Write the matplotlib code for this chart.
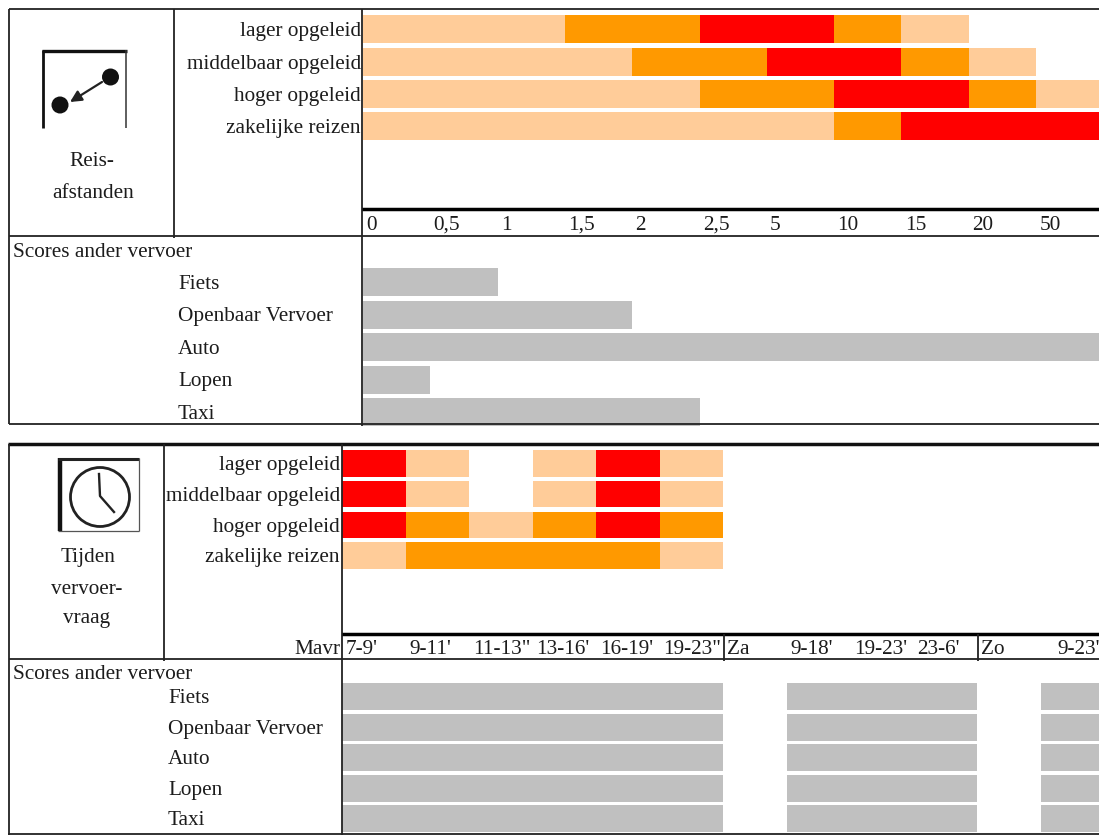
import numpy as np
import matplotlib
matplotlib.use('Agg')
import matplotlib.pyplot as plt
from matplotlib.patches import Circle
from matplotlib.transforms import Affine2D

W, H = 1099, 835
plt.rcParams['font.family'] = ['Liberation Serif', 'DejaVu Serif']
TXT = '#1c1c1c'
FS = 15.3

# 0 = leeg, 1 = licht, 2 = oranje, 3 = rood
groepen = ['lager opgeleid', 'middelbaar opgeleid', 'hoger opgeleid', 'zakelijke reizen']
vervoer = ['Fiets', 'Openbaar Vervoer', 'Auto', 'Lopen', 'Taxi']

afstand_labels = ['0', '0,5', '1', '1,5', '2', '2,5', '5', '10', '15', '20', '50']
afstand_lager = [1, 1, 1, 2, 2, 3, 3, 2, 1, 0, 0]
afstand_midden = [1, 1, 1, 1, 2, 2, 3, 3, 2, 1, 0]
afstand_hoger = [1, 1, 1, 1, 1, 2, 2, 3, 3, 2, 1]
afstand_zakelijk = [1, 1, 1, 1, 1, 1, 1, 2, 3, 3, 3]
afstand_scores = [2, 4, 11, 1, 5]

tijd_labels = ["7-9'", "9-11'", '11-13"', "13-16'", "16-19'", '19-23"', 'Za', "9-18'", "19-23'", "23-6'", 'Zo', "9-23'"]
tijd_lager = [3, 1, 0, 1, 3, 1, 0, 0, 0, 0, 0, 0]
tijd_midden = [3, 1, 0, 1, 3, 1, 0, 0, 0, 0, 0, 0]
tijd_hoger = [3, 2, 1, 2, 3, 2, 0, 0, 0, 0, 0, 0]
tijd_zakelijk = [1, 2, 2, 2, 2, 1, 0, 0, 0, 0, 0, 0]
tijd_scores = [1, 1, 1, 1, 1, 1, 0, 1, 1, 1, 0, 1]

kleuren = {1: '#ffcc99', 2: '#ff9900', 3: '#ff0000'}
GRIJS = '#c0c0c0'

fig = plt.figure(figsize=(W / 100, H / 100), dpi=100)


def pixel_axes(x0, y0, x1, y1, **kw):
    ax = fig.add_axes([x0 / W, 1 - y1 / H, (x1 - x0) / W, (y1 - y0) / H], **kw)
    ax.patch.set_alpha(0)
    for s in ax.spines.values():
        s.set_visible(False)
    return ax


def heat_panel(x0, y0, y1, pitch, col_w, rows, ticklabels, tickpos, ypad):
    ax = pixel_axes(x0, y0, W, y1)
    ax.set_xlim(0, (W - x0) / col_w)
    ax.set_ylim((y1 - y0) / pitch - 0.5, -0.5)
    for r, row in enumerate(rows):
        for c, lvl in enumerate(row):
            if lvl:
                ax.barh(r, 1, left=c, height=0.86, color=kleuren[lvl], linewidth=0)
    ax.set_yticks(range(len(groepen)))
    ax.set_yticklabels(groepen, fontsize=FS, color=TXT)
    ax.set_xticks(tickpos)
    ax.set_xticklabels(ticklabels, fontsize=FS, color=TXT, ha='left', va='baseline')
    ax.tick_params(length=0)
    ax.tick_params(axis='x', pad=15.2)
    ax.tick_params(axis='y', pad=ypad)
    # labels met komma zakken anders iets
    for lab in ax.get_xticklabels():
        if ',' in lab.get_text():
            lab.set_transform(lab.get_transform() + Affine2D().translate(0, 1))
    return ax


def score_panel(x0, y0, y1, pitch, col_w, label_x):
    ax = pixel_axes(x0, y0, W, y1)
    ax.set_xlim(0, (W - x0) / col_w)
    ax.set_ylim((y1 - y0) / pitch - 0.5, -0.5)
    ax.set_xticks([])
    ax.set_yticks([])
    for r, name in enumerate(vervoer):
        ax.annotate(name, xy=(0, r), xycoords=ax.get_yaxis_transform(),
                    xytext=(label_x - x0, -2), textcoords='offset pixels',
                    va='center', ha='left', fontsize=FS, color=TXT, annotation_clip=False)
    return ax


# bovenste blok
col_a = 67.3
rows_a = [afstand_lager, afstand_midden, afstand_hoger, afstand_zakelijk]
heat_panel(363, 13, 209, 32.4, col_a, rows_a, afstand_labels, np.arange(len(afstand_labels)) + 0.05, 1.5)
ax = score_panel(363, 266, 430, 32.5, col_a, 178)
ax.barh(range(len(vervoer)), afstand_scores, height=0.86, color=GRIJS, linewidth=0)

# onderste blok
col_t = 63.5
rows_t = [tijd_lager, tijd_midden, tijd_hoger, tijd_zakelijk]
pos_t = np.arange(len(tijd_labels)) + 0.06
pos_t[-1] = 11.27
heat_panel(342, 448, 633, 30.7, col_t, rows_t, tijd_labels, pos_t, 1.5)
ax = score_panel(342, 681.5, 835, 30.5, col_t, 168)
for r in range(len(vervoer)):
    for c, v in enumerate(tijd_scores):
        if v:
            ax.barh(r, 1, left=c, height=0.88, color=GRIJS, linewidth=0)

# lijnen en pictogrammen in pixels
top = pixel_axes(0, 0, W, H, zorder=5)
top.set_xlim(0, W)
top.set_ylim(H, 0)
top.axis('off')


def ln(x0, y0, x1, y1, lw=1.3, c='#222222'):
    top.plot([x0, x1], [y0, y1], color=c, lw=lw, solid_capstyle='butt')


def txt(x, y, s, ha='left'):
    top.text(x, y + 2.5, s, ha=ha, va='center', fontsize=FS, color=TXT)


# kader boven
ln(9, 9, W, 9)
ln(9, 236, W, 236)
ln(9, 424, W, 424)
ln(9, 9, 9, 424)
ln(174, 9, 174, 238)
ln(362, 9, 362, 426)
ln(362, 209, W, 209, lw=2.5, c='black')

# kader onder
ln(8, 444, W, 444, lw=2.5, c='#111111')
ln(9, 659, W, 659)
ln(8, 833.5, W, 833.5)
ln(9, 444, 9, 835)
ln(163.5, 444, 163.5, 661)
ln(342, 444, 342, 835)
ln(342, 633.5, W, 633.5, lw=2.5, c='black')
ln(724, 634, 724, 661)
ln(978, 634, 978, 661)

txt(13, 250, 'Scores ander vervoer')
txt(13, 672, 'Scores ander vervoer')
txt(92, 159, 'Reis-', ha='center')
txt(93, 191, 'afstanden', ha='center')
txt(88, 555, 'Tijden', ha='center')
txt(87, 587, 'vervoer-', ha='center')
txt(87, 616, 'vraag', ha='center')
top.text(340, 654, 'Mavr', ha='right', va='baseline', fontsize=FS, color=TXT)

# afstand-icoon
ln(42.5, 128, 42.5, 50, lw=2.0, c='#111111')
ln(41.5, 51, 127, 51, lw=2.4, c='#111111')
ln(126, 50, 126, 128, lw=1.1, c='#333333')
top.add_patch(Circle((110.5, 77), 8.5, color='#111111', lw=0))
top.add_patch(Circle((60, 105), 8.5, color='#111111', lw=0))
top.annotate('', xy=(70, 102), xytext=(102, 82),
             arrowprops=dict(arrowstyle='-|>', color='#222222', lw=1.6, mutation_scale=17, shrinkA=0, shrinkB=0))

# klok-icoon
ln(59.5, 458, 59.5, 531, lw=3.2, c='#111111')
ln(58, 459, 139, 459, lw=2.2, c='#222222')
ln(138.5, 458, 138.5, 531, lw=0.9, c='#555555')
ln(58, 531, 139, 531, lw=0.9, c='#555555')
top.add_patch(Circle((100, 497), 29.5, fill=False, ec='#222222', lw=2))
top.plot([99, 100, 114], [474, 496, 512], color='#222222', lw=1.7)

fig.savefig('out.png', dpi=100, facecolor='white')
